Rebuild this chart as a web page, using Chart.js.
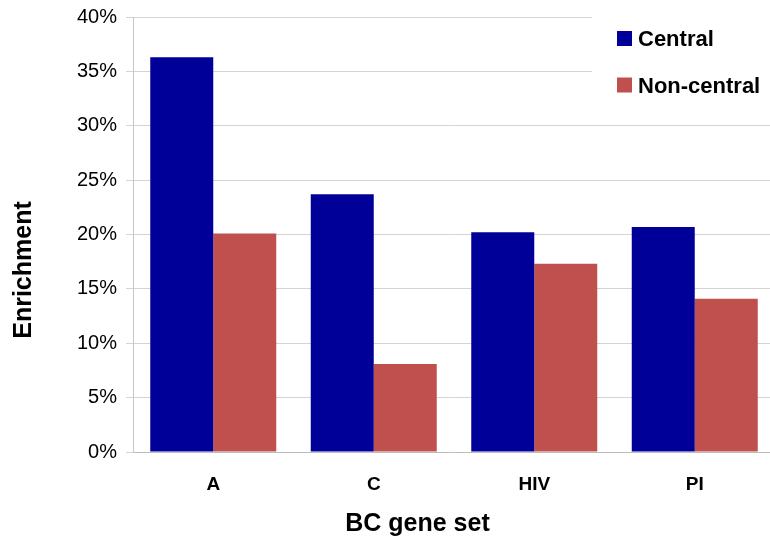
<!DOCTYPE html>
<html>
<head>
<meta charset="utf-8">
<script src="https://cdn.jsdelivr.net/npm/chart.js@4/dist/chart.umd.min.js"></script>
<style>
  html, body { margin: 0; padding: 0; background: #fff; overflow: hidden; }
  #wrap { position: relative; width: 776px; height: 540px; }
</style>
</head>
<body>
<div id="wrap"><canvas id="c" width="776" height="540"></canvas></div>
<script>
const categories = ['A', 'C', 'HIV', 'PI'];
const centralValues = [36.3, 23.7, 20.2, 20.7];
const nonCentralValues = [20.1, 8.1, 17.3, 14.1];
const seriesNames = ['Central', 'Non-central'];
const seriesColors = ['#000099', '#C0504D'];
const yTickMax = 40;
const yTickStep = 5;
const xTitle = 'BC gene set';
const yTitle = 'Enrichment';

const FONT = "'Liberation Sans', Arial, sans-serif";

const decorPlugin = {
  id: 'decor',
  afterDraw(chart) {
    const ctx = chart.ctx;
    ctx.save();
    // legend box overlaying the top-right of the plot
    ctx.fillStyle = '#ffffff';
    ctx.fillRect(592, 0, 190, 108);
    const baselines = [46, 92.5];
    chart.data.datasets.forEach((ds, i) => {
      const b = baselines[i];
      ctx.fillStyle = ds.backgroundColor;
      ctx.fillRect(617, b - 15, 15, 15);
      ctx.fillStyle = '#000000';
      ctx.font = 'bold 22px ' + FONT;
      ctx.textBaseline = 'alphabetic';
      ctx.textAlign = 'left';
      ctx.fillText(ds.label, 638, b);
    });
    // axis titles
    ctx.fillStyle = '#000000';
    ctx.font = 'bold 25px ' + FONT;
    ctx.textAlign = 'center';
    ctx.textBaseline = 'alphabetic';
    ctx.fillText(xTitle, 417.5, 531);
    ctx.translate(31, 270);
    ctx.rotate(-Math.PI / 2);
    ctx.fillText(yTitle, 0, 0);
    ctx.restore();
  }
};

new Chart(document.getElementById('c'), {
  type: 'bar',
  data: {
    labels: categories,
    datasets: [
      { label: seriesNames[0], data: centralValues, backgroundColor: seriesColors[0] },
      { label: seriesNames[1], data: nonCentralValues, backgroundColor: seriesColors[1] }
    ]
  },
  options: {
    responsive: false,
    animation: false,
    devicePixelRatio: 1,
    layout: { padding: { top: 17, left: 0, right: 1, bottom: 0 } },
    datasets: { bar: { barPercentage: 1.0, categoryPercentage: 0.785 } },
    plugins: { legend: { display: false }, tooltip: { enabled: false } },
    scales: {
      x: {
        grid: { display: false, drawTicks: false },
        border: { display: true, color: '#bcbcbc', width: 1 },
        ticks: { color: '#000', font: { family: FONT, size: 19, weight: 'bold' }, padding: 21 },
        afterFit(scale) { scale.height = 88; scale.paddingLeft = 0; scale.paddingRight = 0; }
      },
      y: {
        min: 0,
        max: yTickMax,
        ticks: { stepSize: yTickStep, color: '#000', font: { family: FONT, size: 20 }, padding: 9,
                 callback: v => v + '%' },
        grid: { color: '#d4d4d4', lineWidth: 1, tickLength: 7, drawTicks: true },
        border: { display: true, color: '#c8c8c8', width: 1 },
        afterFit(scale) { scale.width = 133; scale.paddingTop = 0; scale.paddingBottom = 0; }
      }
    }
  },
  plugins: [decorPlugin]
});
</script>
</body>
</html>
